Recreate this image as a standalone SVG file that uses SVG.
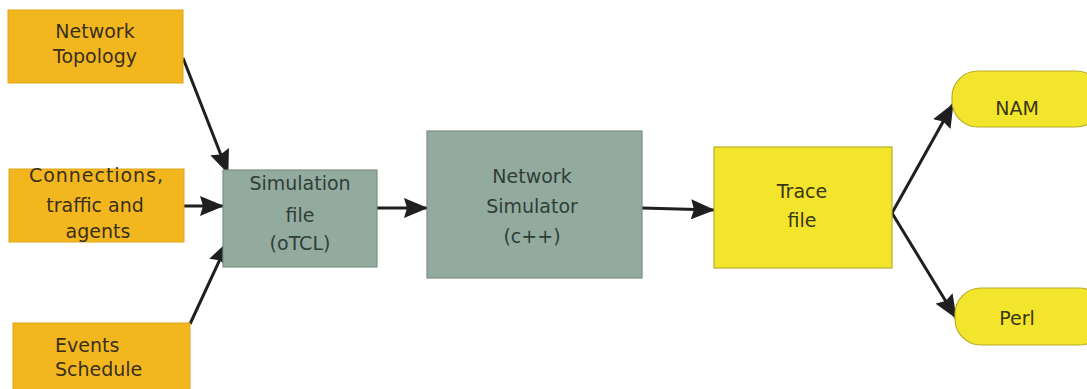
<svg xmlns="http://www.w3.org/2000/svg" width="1087" height="389" viewBox="0 0 1087 389">
  <defs>
    <marker id="arrow" viewBox="0 0 24 20" refX="23" refY="10" markerWidth="8" markerHeight="6.67" markerUnits="strokeWidth" orient="auto">
      <path d="M0,0 L24,10 L0,20 L3,10 Z" fill="#1f1f1f"/>
    </marker>
    <style>
      .input { fill: #f2b71f; stroke: #e0a515; stroke-width: 1; }
      .proc { fill: #93aa9f; stroke: #7b8f86; stroke-width: 1.2; }
      .out { fill: #f2e52b; stroke: #b8ad2a; stroke-width: 1.2; }
      .label { font-family: "DejaVu Sans", "Liberation Sans", Arial, sans-serif; font-size: 19px; text-anchor: middle; }
      .left { text-anchor: start; }
      .dark { fill: #3a2f1c; }
      .gray { fill: #2f3e38; }
      .olive { fill: #3a3618; }
      .link { stroke: #1f1f1f; stroke-width: 3; fill: none; marker-end: url(#arrow); }
    </style>
  </defs>
  <rect width="1087" height="389" fill="#ffffff"/>

  <g id="connectors">
    <line class="link" x1="183" y1="58" x2="228" y2="173"/>
    <line class="link" x1="184" y1="206" x2="223" y2="206"/>
    <line class="link" x1="190" y1="324" x2="228" y2="242"/>
    <line class="link" x1="377" y1="208" x2="427" y2="208"/>
    <line class="link" x1="642" y1="208" x2="714" y2="210"/>
    <line class="link" x1="892" y1="213" x2="953" y2="104"/>
    <line class="link" x1="892" y1="213" x2="956" y2="318"/>
  </g>

  <g id="network-topology">
    <rect class="input" x="8" y="10" width="175" height="73"/>
    <text class="label dark" x="95" y="38">Network</text>
    <text class="label dark" x="95" y="63">Topology</text>
  </g>

  <g id="connections">
    <rect class="input" x="9" y="169" width="175" height="73"/>
    <text class="label dark" x="96" y="182" textLength="134">Connections,</text>
    <text class="label dark" x="95" y="212">traffic and</text>
    <text class="label dark" x="98" y="238">agents</text>
  </g>

  <g id="events-schedule">
    <rect class="input" x="13" y="323" width="177" height="70"/>
    <text class="label left dark" x="55" y="352">Events</text>
    <text class="label left dark" x="55" y="376">Schedule</text>
  </g>

  <g id="simulation-file">
    <rect class="proc" x="223" y="170" width="154" height="97"/>
    <text class="label gray" x="300" y="190">Simulation</text>
    <text class="label gray" x="300" y="222">file</text>
    <text class="label gray" x="300" y="250">(oTCL)</text>
  </g>

  <g id="network-simulator">
    <rect class="proc" x="427" y="131" width="215" height="147"/>
    <text class="label gray" x="532" y="183">Network</text>
    <text class="label gray" x="532" y="213">Simulator</text>
    <text class="label gray" x="532" y="243">(c++)</text>
  </g>

  <g id="trace-file">
    <rect class="out" x="714" y="147" width="178" height="121"/>
    <text class="label olive" x="802" y="198">Trace</text>
    <text class="label olive" x="802" y="227">file</text>
  </g>

  <g id="nam">
    <rect class="out" x="952" y="71" width="150" height="56" rx="26" ry="26"/>
    <text class="label olive" x="1017" y="115">NAM</text>
  </g>

  <g id="perl">
    <rect class="out" x="955" y="288" width="150" height="57" rx="26" ry="26"/>
    <text class="label olive" x="1017" y="325">Perl</text>
  </g>
</svg>
